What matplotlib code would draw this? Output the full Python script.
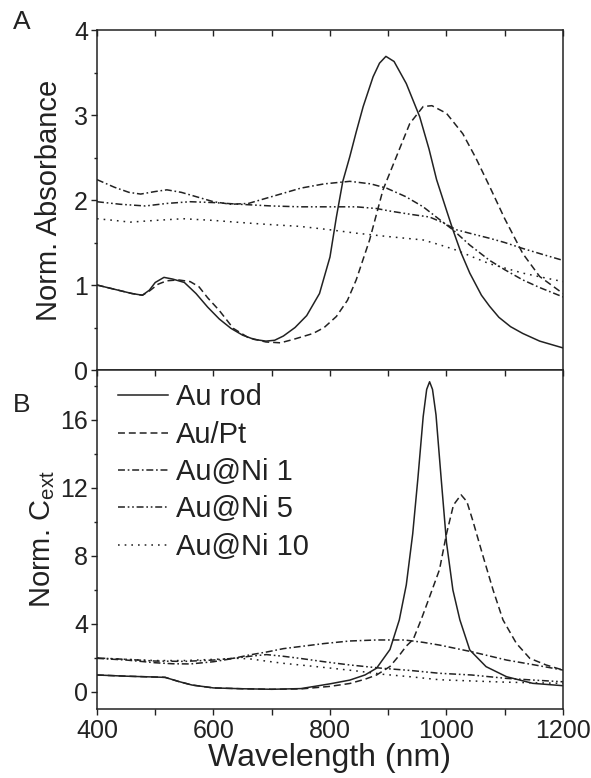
import numpy as np
import matplotlib
matplotlib.use("Agg")
import matplotlib.pyplot as plt
from matplotlib.ticker import MultipleLocator

plt.rcParams['font.family'] = ['Liberation Sans', 'DejaVu Sans']
plt.rcParams['mathtext.fontset'] = 'custom'
plt.rcParams['mathtext.rm'] = 'Liberation Sans'
plt.rcParams['lines.scale_dashes'] = False

# ── Panel A: Norm. Absorbance ────────────────────────────────
wl_rod_a = [400, 430, 460, 478, 490, 500, 515, 530, 550, 570, 590, 610, 630, 650, 670, 690,
            705, 720, 740, 760, 782, 800, 811, 822, 834, 845, 857, 874, 885, 896, 910, 931, 954,
            970, 983, 1000, 1011, 1025, 1040, 1060, 1074, 1090, 1110, 1131, 1160, 1200]
abs_rod = [1.00, 0.95, 0.90, 0.88, 0.94, 1.03, 1.09, 1.07, 1.03, 0.90, 0.74, 0.60, 0.49, 0.41, 0.36, 0.34,
           0.35, 0.40, 0.50, 0.64, 0.90, 1.33, 1.80, 2.22, 2.51, 2.80, 3.10, 3.45, 3.61, 3.69, 3.63, 3.37, 2.98,
           2.60, 2.24, 1.88, 1.65, 1.38, 1.14, 0.88, 0.75, 0.62, 0.51, 0.43, 0.34, 0.26]

wl_pt_a = [400, 430, 460, 478, 490, 505, 520, 540, 560, 575, 590, 610, 634, 660, 690, 715, 737, 771,
           790, 811, 830, 845, 868, 891, 914, 937, 960, 975, 1000, 1028, 1050, 1074, 1100, 1131, 1160, 1200]
abs_pt = [1.00, 0.95, 0.90, 0.88, 0.93, 1.01, 1.05, 1.06, 1.04, 0.98, 0.85, 0.70, 0.49, 0.38, 0.33, 0.32, 0.36, 0.43,
          0.50, 0.63, 0.82, 1.06, 1.53, 2.12, 2.51, 2.90, 3.10, 3.11, 3.02, 2.78, 2.50, 2.16, 1.78, 1.37, 1.10, 0.90]

wl_ni1_a = [400, 430, 455, 475, 500, 520, 545, 570, 600, 630, 660, 690, 720, 750, 790, 834, 870, 897,
            930, 960, 990, 1011, 1040, 1074, 1100, 1131, 1160, 1200]
abs_ni1 = [2.24, 2.15, 2.09, 2.07, 2.10, 2.12, 2.09, 2.04, 1.98, 1.95, 1.96, 2.02, 2.08, 2.14, 2.19, 2.22, 2.19, 2.14,
           2.04, 1.92, 1.76, 1.65, 1.47, 1.29, 1.18, 1.06, 0.97, 0.86]

wl_ni5_a = [400, 440, 483, 520, 560, 600, 645, 700, 750, 800, 845, 880, 903, 940, 971, 995, 1017, 1045,
            1074, 1100, 1131, 1165, 1200]
abs_ni5 = [1.98, 1.95, 1.93, 1.96, 1.98, 1.97, 1.95, 1.93, 1.92, 1.92, 1.92, 1.90, 1.87, 1.83, 1.80, 1.73, 1.65, 1.60,
           1.55, 1.50, 1.43, 1.36, 1.29]

wl_ni10_a = [400, 430, 457, 500, 548, 600, 657, 700, 748, 800, 845, 900, 960, 990, 1017, 1045, 1074, 1100,
             1131, 1165, 1200]
abs_ni10 = [1.78, 1.76, 1.74, 1.76, 1.78, 1.76, 1.73, 1.71, 1.69, 1.65, 1.61, 1.57, 1.53, 1.47, 1.41, 1.33, 1.25, 1.20,
            1.14, 1.09, 1.04]

# ── Panel B: Norm. C_ext ─────────────────────────────────────
wl_rod_b = [400, 450, 500, 517, 540, 563, 600, 650, 700, 750, 777, 800, 834, 860, 880, 903, 919, 931,
            942, 951, 960, 966, 971, 976, 982, 991, 1000, 1011, 1023, 1040, 1068, 1103, 1148, 1200]
cext_rod = [1.00, 0.93, 0.88, 0.86, 0.62, 0.41, 0.24, 0.19, 0.16, 0.20, 0.35, 0.48, 0.70, 1.00, 1.40, 2.50, 4.24, 6.3,
            9.3, 12.6, 16.2, 17.8, 18.25, 17.8, 16.3, 12.5, 8.8, 6.0, 4.24, 2.47, 1.49, 0.90, 0.51, 0.37]

wl_pt_b = [400, 450, 500, 517, 540, 563, 600, 650, 700, 750, 800, 834, 860, 880, 903, 920, 931, 943, 957,
           971, 988, 1000, 1012, 1025, 1035, 1045, 1063, 1080, 1097, 1120, 1143, 1171, 1200]
cext_pt = [1.00, 0.93, 0.88, 0.86, 0.62, 0.41, 0.24, 0.19, 0.16, 0.18, 0.33, 0.50, 0.75, 1.00, 1.50, 2.20, 2.70, 3.10, 4.30,
           5.6, 7.2, 9.3, 11.0, 11.6, 11.2, 10.1, 7.96, 6.0, 4.24, 2.86, 1.98, 1.59, 1.29]

wl_ni1_b = [400, 450, 500, 530, 560, 600, 630, 662, 691, 720, 748, 790, 834, 880, 928, 960, 988, 1043,
            1103, 1150, 1200]
cext_ni1 = [1.98, 1.88, 1.72, 1.66, 1.65, 1.78, 1.95, 2.18, 2.35, 2.55, 2.67, 2.85, 3.00, 3.06, 3.06, 2.92, 2.76, 2.37,
            1.88, 1.60, 1.29]

wl_ni5_b = [400, 450, 500, 550, 600, 640, 662, 691, 720, 748, 790, 834, 891, 937, 988, 1043, 1103, 1150, 1200]
cext_ni5 = [2.00, 1.92, 1.82, 1.80, 1.88, 2.00, 2.10, 2.20, 2.10, 1.98, 1.78, 1.59, 1.39, 1.27, 1.10, 1.00, 0.80,
            0.70, 0.60]

wl_ni10_b = [400, 450, 500, 550, 600, 640, 662, 690, 719, 760, 805, 850, 891, 937, 988, 1043, 1100, 1150, 1200]
cext_ni10 = [2.00, 1.92, 1.85, 1.85, 1.92, 1.98, 1.95, 1.82, 1.69, 1.55, 1.39, 1.22, 1.04, 0.90, 0.72, 0.65, 0.58, 0.54,
             0.51]

labels = ["Au rod", "Au/Pt", "Au@Ni 1", "Au@Ni 5", "Au@Ni 10"]
styles = ["-", (0, (5, 2.8)), (0, (5, 2, 1.2, 2)), (0, (5, 2, 1.2, 2, 1.2, 2)), (0, (1.2, 3.6))]

ink = "#222222"
lw = 1.1

fig = plt.figure(figsize=(5.91, 7.78), dpi=100)
ax_a = fig.add_axes([0.1641, 0.5244, 0.7885, 0.4370])
ax_b = fig.add_axes([0.1641, 0.0887, 0.7885, 0.4357])

series_a = [(wl_rod_a, abs_rod), (wl_pt_a, abs_pt), (wl_ni1_a, abs_ni1), (wl_ni5_a, abs_ni5), (wl_ni10_a, abs_ni10)]
series_b = [(wl_rod_b, cext_rod), (wl_pt_b, cext_pt), (wl_ni1_b, cext_ni1), (wl_ni5_b, cext_ni5), (wl_ni10_b, cext_ni10)]

for (x, y), ls in zip(series_a, styles):
    ax_a.plot(x, y, color=ink, lw=lw, linestyle=ls)
for (x, y), ls, lab in zip(series_b, styles, labels):
    ax_b.plot(x, y, color=ink, lw=lw, linestyle=ls, label=lab)

for ax in (ax_a, ax_b):
    ax.set_xlim(400, 1200)
    ax.xaxis.set_major_locator(MultipleLocator(200))
    ax.xaxis.set_minor_locator(MultipleLocator(100))
    for s in ax.spines.values():
        s.set_linewidth(1.1)
        s.set_color(ink)
    ax.tick_params(axis="y", which="both", direction="out", left=True, right=False,
                   labelsize=18, colors=ink, width=1.0, pad=2)
    ax.tick_params(axis="y", which="major", length=4.5)
    ax.tick_params(axis="y", which="minor", length=2.5)

# panel A
ax_a.set_ylim(0, 4)
ax_a.yaxis.set_major_locator(MultipleLocator(1))
ax_a.yaxis.set_minor_locator(MultipleLocator(0.5))
ax_a.tick_params(axis="x", which="both", direction="in", top=True, bottom=False,
                 labelbottom=False, width=1.0, colors=ink)
ax_a.tick_params(axis="x", which="both", length=4.5)
ax_a.set_ylabel("Norm. Absorbance", fontsize=21, color=ink, labelpad=8)

# panel B
ax_b.set_ylim(-1, 18.94)
ax_b.yaxis.set_major_locator(MultipleLocator(4))
ax_b.yaxis.set_minor_locator(MultipleLocator(2))
ax_b.tick_params(axis="x", which="both", direction="out", bottom=True, top=False,
                 labelsize=18, colors=ink, width=1.0, pad=3)
ax_b.tick_params(axis="x", which="major", length=4.5)
ax_b.tick_params(axis="x", which="minor", length=4.5)
sec = ax_b.secondary_xaxis("top")
sec.xaxis.set_major_locator(MultipleLocator(100))
sec.tick_params(axis="x", direction="in", length=4.5, width=1.0, labeltop=False, colors=ink)
sec.spines["top"].set_visible(False)
ax_b.set_ylabel("Norm. C$_{\\mathregular{ext}}$", fontsize=21, color=ink, labelpad=2)
ax_b.set_xlabel("Wavelength (nm)", fontsize=23, color=ink, labelpad=0)

leg = ax_b.legend(loc="upper left", frameon=False, fontsize=21, handlelength=1.72,
                  handletextpad=0.3, labelspacing=0.32, borderaxespad=0.0,
                  bbox_to_anchor=(0.019, 0.995))
for t in leg.get_texts():
    t.set_color(ink)

fig.text(0.037, 0.972, "A", fontsize=19, color=ink, va="center", ha="center")
fig.text(0.037, 0.479, "B", fontsize=19, color=ink, va="center", ha="center")

fig.savefig("out.png", dpi=100)
